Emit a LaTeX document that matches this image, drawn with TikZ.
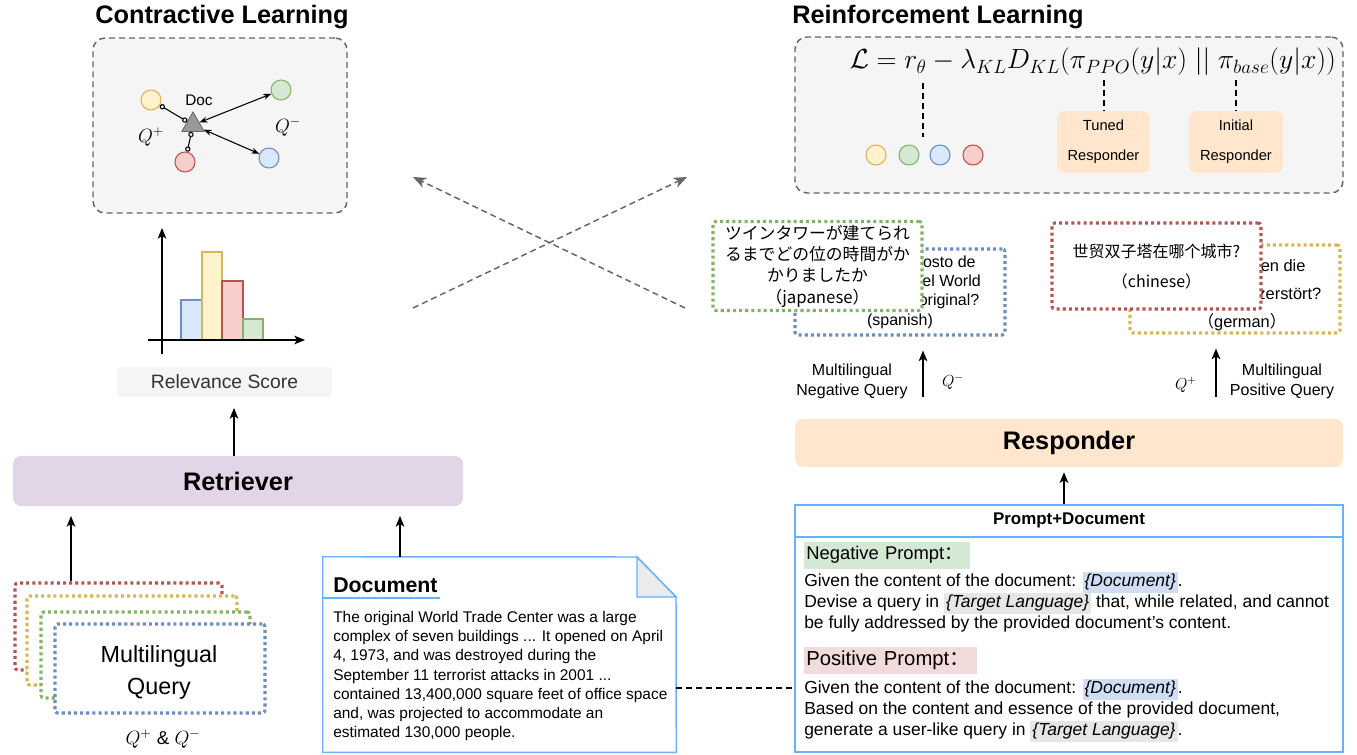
\documentclass[tikz,border=0pt]{standalone}
\usepackage{amsmath}
\usepackage{fontspec}
\setmainfont{Liberation Sans}
\newfontfamily\jpfont{Noto Sans CJK JP}
\newfontfamily\scfont{Noto Sans CJK SC}
\usepackage{tikz}
\usetikzlibrary{arrows.meta,calc,positioning,fit,shapes.geometric}

\definecolor{bggray}{HTML}{F5F5F5}
\definecolor{dashgray}{HTML}{666666}
\definecolor{yfill}{HTML}{FFF2CC}
\definecolor{ydraw}{HTML}{D6B656}
\definecolor{gfill}{HTML}{D5E8D4}
\definecolor{gdraw}{HTML}{82B366}
\definecolor{bfill}{HTML}{DAE8FC}
\definecolor{bdraw}{HTML}{6C8EBF}
\definecolor{rfill}{HTML}{F8CECC}
\definecolor{rdraw}{HTML}{B85450}
\definecolor{purplebg}{HTML}{E1D5E7}
\definecolor{orangebg}{HTML}{FFE6CC}
\definecolor{docblue}{HTML}{66B2FF}
\definecolor{hlblue}{HTML}{D0DEF5}
\definecolor{hlgray}{HTML}{E6E6E6}
\definecolor{hlpink}{HTML}{F2DCDB}

\newcommand{\fsz}[2]{\fontsize{#1}{#2}\selectfont}
\newcommand{\hlb}[1]{{\setlength{\fboxsep}{1.5pt}\colorbox{hlblue}{\itshape #1}}}
\newcommand{\hlg}[1]{{\setlength{\fboxsep}{1.5pt}\colorbox{hlgray}{\itshape #1}}}

\begin{document}
\begin{tikzpicture}[x=0.75pt,y=-0.75pt,
    dbox/.style={draw=dashgray, fill=bggray, line width=1.1pt, dash pattern=on 4.5pt off 3pt, rounded corners=9pt, inner sep=0pt},
    qbox/.style={fill=white, line width=2.3pt, dash pattern=on 2.3pt off 2.3pt, rounded corners=2pt, inner sep=0pt, align=center},
    bigbox/.style={rounded corners=6pt, inner sep=0pt, font=\fsz{19}{23}\bfseries},
    smallbox/.style={fill=orangebg, rounded corners=6pt, inner sep=0pt, align=center, font=\fsz{11}{22.5}, minimum height=46.5pt},
    dot/.style={circle, minimum size=15pt, inner sep=0pt, line width=0.8pt},
    arr/.style={-{Stealth[length=8pt,width=6.5pt,inset=2pt]}, line width=1.1pt},
    xarr/.style={draw=dashgray, line width=1.1pt, dash pattern=on 4.5pt off 3pt, -{Stealth[length=10pt,width=8pt,inset=3pt]}},
    link/.style={line width=1.1pt, dash pattern=on 4.5pt off 3pt},
    bar/.style={line width=1.2pt}]
    \useasboundingbox (0,0) rectangle (1357,755);
    %Contrastive learning
    \node[font=\fsz{19}{23}\bfseries] (cltitle) at (222,17) {Contractive Learning};
    \node[dbox, fit={(93,38) (347,213)}] (clbox) {};
    \node[regular polygon, regular polygon sides=3, minimum size=19.5pt, inner sep=0pt, fill=black!40, draw=dashgray, line width=0.6pt] (doctri) at (193,125) {};
    \node[font=\fsz{11.5}{14}] (doclab) at (199,100) {Doc};
    \node[dot, fill=yfill, draw=ydraw] (cy) at (151,100) {};
    \node[dot, fill=gfill, draw=gdraw] (cg) at (281,90) {};
    \node[dot, fill=bfill, draw=bdraw] (cb) at (269,158) {};
    \node[dot, fill=rfill, draw=rdraw] (cr) at (185,162) {};
    \node[font=\fsz{14}{16}] (qplus) at (151,137) {$Q^{+}$};
    \node[font=\fsz{14}{16}] (qminus) at (288,127) {$Q^{-}$};
    \draw[{Circle[open,length=4pt]}-{Circle[open,length=4pt]}, line width=0.8pt] (cy) -- (doctri);
    \draw[{Circle[open,length=4pt]}-{Circle[open,length=4pt]}, line width=0.8pt] (cr) -- (doctri);
    \draw[{Stealth[length=6pt,width=4.5pt]}-{Stealth[length=6pt,width=4.5pt]}, line width=0.8pt] (doctri) -- (cg);
    \draw[{Stealth[length=6pt,width=4.5pt]}-{Stealth[length=6pt,width=4.5pt]}, line width=0.8pt] (doctri) -- (cb);
    %Relevance chart
    \draw[bar, draw=bdraw, fill=bfill] (181,340) rectangle (202,300);
    \draw[bar, draw=ydraw, fill=yfill] (202,340) rectangle (222,252);
    \draw[bar, draw=rdraw, fill=rfill] (222,340) rectangle (243,281);
    \draw[bar, draw=gdraw, fill=gfill] (243,340) rectangle (263,319);
    \draw[arr] (148,340) -- (305,340);
    \draw[arr] (162,354) -- (162,228);
    \node[fill=bggray, rounded corners=3pt, inner sep=0pt, minimum width=161.25pt, minimum height=22.5pt, text=black!80, font=\fsz{14.5}{17}] (relscore) at (224.5,382) {Relevance Score};
    %Retriever and inputs
    \node[bigbox, fill=purplebg, minimum width=337.5pt, minimum height=37.5pt] (retriever) at (238,481) {Retriever};
    \coordinate (rsin) at (234,408);
    \draw[arr] (retriever.north -| rsin) -- (rsin);
    \node[qbox, draw=rdraw, fit={(15,583) (222,670)}] (qred) {};
    \node[qbox, draw=ydraw, fit={(27,596) (237,685)}] (qyellow) {};
    \node[qbox, draw=gdraw, fit={(41,612) (250,698)}] (qgreen) {};
    \node[qbox, draw=bdraw, fit={(55,624) (265,713)}] (qblue) {};
    \node[align=center, font=\fsz{17.5}{24}] (qtext) at (159,672) {Multilingual\\Query};
    \node[font=\fsz{14}{16}] (qboth) at (163,739) {$Q^{+}\;\&\;Q^{-}$};
    \coordinate (retin) at (71,516);
    \draw[arr] (qred.north -| retin) -- (retin);
    %Document
    \node[fit={(323,557) (676,752)}, inner sep=0pt] (doc) {};
    \draw[docblue, line width=1.1pt, fill=white] (doc.north west) -- (637,557) -- (676,597) -- (doc.south east) -- (doc.south west) -- cycle;
    \draw[docblue, line width=1.1pt, fill=black!8] (637,557) -- (637,597) -- (676,597) -- cycle;
    \node[anchor=west, inner sep=0pt, font=\fsz{16}{19}\bfseries] (doctitle) at (333,585) {Document};
    \coordinate (dtline) at (440,598);
    \draw[docblue, line width=1.1pt] (doc.west |- dtline) -- (dtline);
    \node[anchor=north west, inner sep=0pt, align=left, font=\fsz{11.6}{14.4}] (doctext) at (333,611) {The original World Trade Center was a large\\complex of seven buildings ... It opened on April\\4, 1973, and was destroyed during the\\September 11 terrorist attacks in 2001 ...\\contained 13,400,000 square feet of office space\\and, was projected to accommodate an\\estimated 130,000 people.};
    \coordinate (docin) at (400,516);
    \draw[arr] (doc.north -| docin) -- (docin);
    %Crossing arrows
    \coordinate (xa) at (413,308);
    \coordinate (xb) at (687,177);
    \coordinate (xc) at (685,308);
    \coordinate (xd) at (413,177);
    \draw[xarr] (xa) -- (xb);
    \draw[xarr] (xc) -- (xd);
    %Reinforcement learning
    \node[font=\fsz{19}{23}\bfseries] (rltitle) at (938,17) {Reinforcement Learning};
    \node[dbox, fit={(795,37) (1343,193)}] (rlbox) {};
    \node[font=\fsz{20}{23}] (loss) at (1093,62) {$\mathcal{L} = r_\theta - \lambda_{KL} D_{KL}(\pi_{PPO}(y|x)\;||\;\pi_{base}(y|x))$};
    \node[dot, fill=yfill, draw=ydraw] (ry) at (876,155) {};
    \node[dot, fill=gfill, draw=gdraw] (rg) at (909,155) {};
    \node[dot, fill=bfill, draw=bdraw] (rb) at (940,155) {};
    \node[dot, fill=rfill, draw=rdraw] (rr) at (973,155) {};
    \node[smallbox, minimum width=69.75pt] (tuned) at (1103.5,142) {Tuned\\Responder};
    \node[smallbox, minimum width=70.5pt] (initial) at (1236,142) {Initial\\Responder};
    \coordinate (rtheta) at (923,83);
    \coordinate (rthetaend) at (923,137);
    \coordinate (ppo) at (1104,80);
    \coordinate (pbase) at (1236,80);
    \draw[link] (rtheta) -- (rthetaend);
    \draw[link] (ppo) -- (tuned.north -| ppo);
    \draw[link] (pbase) -- (initial.north -| pbase);
    %Generated queries
    \node[qbox, draw=bdraw, font=\fsz{12}{14.6}, minimum width=157.5pt, minimum height=64.5pt] (spanish) at (900,292) {¿Cuál fue el costo de\\construcción del World\\Trade Center original?\\(spanish)};
    \node[qbox, draw=gdraw, font=\jpfont\fsz{12.6}{16}, minimum width=156.75pt, minimum height=66.75pt] (japanese) at (817.5,266) {ツインタワーが建てられ\\るまでどの位の時間がか\\かりましたか\\（japanese）};
    \node[qbox, draw=ydraw, minimum width=157.5pt, minimum height=66pt] (german) at (1235,289) {};
    \node[align=center, font=\fsz{12.3}{21}] (germantxt) at (1242,295) {Wann wurden die\\Twin Towers zerstört?\\{\scfont （}german{\scfont ）}};
    \node[qbox, draw=rdraw, font=\scfont\fsz{12}{22.5}, minimum width=156.75pt, minimum height=64.5pt] (chinese) at (1156.5,266) {世贸双子塔在哪个城市?\\（chinese）};
    %Responder
    \node[bigbox, fill=orangebg, minimum width=411pt, minimum height=36pt] (resp) at (1069,443) {Responder};
    \coordinate (negx) at (923,0);
    \coordinate (posx) at (1216,0);
    \draw[arr, shorten <=16.5pt, shorten >=10.5pt] (resp.north -| negx) -- (spanish.south -| negx);
    \draw[arr, shorten <=16.5pt, shorten >=10.5pt] (resp.north -| posx) -- (german.south -| posx);
    \node[align=center, font=\fsz{12}{15}] (neglab) at (852,381) {Multilingual\\Negative Query};
    \node[font=\fsz{12}{14}] (qneg) at (953,382) {$Q^{-}$};
    \node[font=\fsz{12}{14}] (qpos) at (1186,385) {$Q^{+}$};
    \node[align=center, font=\fsz{12}{15}] (poslab) at (1282,381) {Multilingual\\Positive Query};
    %Prompt + document
    \node[draw=docblue, line width=1.1pt, inner sep=0pt, fit={(795,505) (1343,752)}] (pd) {};
    \coordinate (pdline) at (0,537);
    \draw[docblue, line width=1.1pt] (pd.west |- pdline) -- (pd.east |- pdline);
    \node[font=\fsz{12.7}{15}\bfseries] (pdhead) at (1069,520) {Prompt+Document};
    \coordinate (respx) at (1064,0);
    \draw[arr, shorten >=3.75pt] (pd.north -| respx) -- (resp.south -| respx);
    \node[fill=gfill, anchor=west, inner sep=0pt, inner xsep=1.5pt, text width=121.5pt, minimum height=20.25pt, align=left, font=\fsz{13.8}{16}] (negprompt) at (804,555) {Negative Prompt{\scfont ：}};
    \node[anchor=north west, inner sep=0pt, align=left, font=\fsz{13.1}{15.75}] (negtext) at (804,572) {Given the content of the document: \hlb{\{Document\}}.\\Devise a query in \hlg{\{Target Language\}} that, while related, and cannot\\be fully addressed by the provided document's content.};
    \node[fill=hlpink, anchor=west, inner sep=0pt, inner xsep=1.5pt, text width=126.75pt, minimum height=20.25pt, align=left, font=\fsz{15.2}{18}] (posprompt) at (804,660) {Positive Prompt{\scfont ：}};
    \node[anchor=north west, inner sep=0pt, align=left, font=\fsz{13.1}{15.75}] (postext) at (804,679) {Given the content of the document: \hlb{\{Document\}}.\\Based on the content and essence of the provided document,\\generate a user-like query in \hlg{\{Target Language\}}.};
    \coordinate (linky) at (0,688);
    \draw[link] (doc.east |- linky) -- (pd.west |- linky);
\end{tikzpicture}
\end{document}
